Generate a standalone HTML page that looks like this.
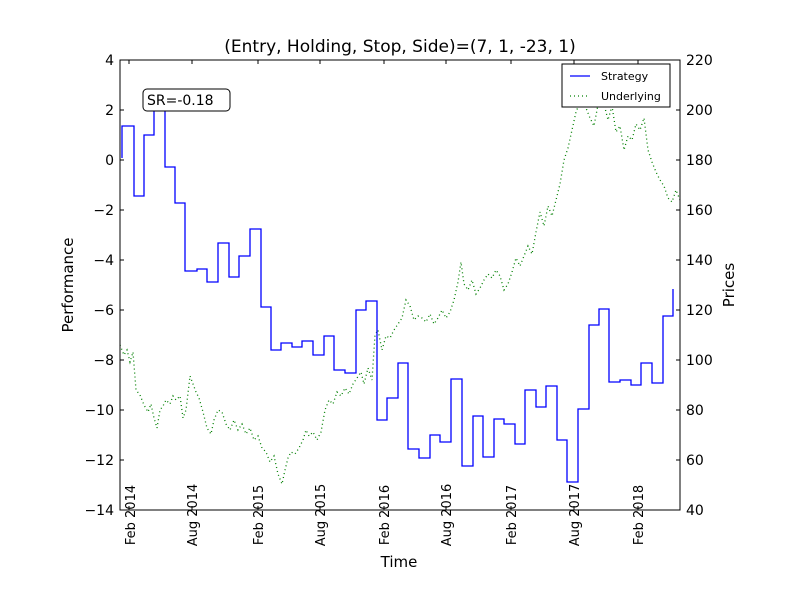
<!DOCTYPE html>
<html><head><style>body{margin:0;background:#fff}svg{display:block;font-family:"DejaVu Sans","Liberation Sans",sans-serif}</style></head>
<body>
<svg width="800" height="600" xmlns="http://www.w3.org/2000/svg">
<rect width="800" height="600" fill="#fff"/>
<polyline fill="none" stroke="#007f00" stroke-width="1.3" stroke-dasharray="1,3" points="120,345 124,355 127,350 130,362 133,352 136,390 140,395 144,405 148,412 151,404 154,418 157,428 160,410 163,406 166,400 170,404 173,396 176,400 180,396 183,418 186,410 190,376 193,384 196,392 199,398 203,412 207,428 211,434 214,420 218,410 222,412 226,424 230,430 234,420 238,430 242,424 246,434 250,428 254,440 258,436 262,448 266,452 270,462 274,456 278,474 282,484 285,470 288,458 291,452 295,454 299,448 303,440 306,430 309,436 313,432 317,440 321,432 325,410 329,400 333,404 337,392 341,396 345,388 349,394 353,384 357,378 361,372 364,384 368,368 372,380 375,335 378,330 382,350 386,336 390,338 394,330 398,324 402,318 406,300 410,306 414,320 418,316 422,318 426,322 430,314 434,324 438,318 442,310 446,318 450,312 454,300 458,282 461,262 464,284 468,290 472,280 476,294 480,288 484,280 488,274 492,278 496,270 500,276 504,290 508,284 512,272 516,258 520,266 524,256 528,246 532,254 536,232 540,212 544,226 548,206 552,216 556,200 560,184 564,160 568,148 572,130 576,112 580,102 583,92 586,108 590,118 594,126 597,110 600,94 604,104 608,120 612,106 616,132 620,126 624,150 628,136 632,140 636,124 640,130 644,118 648,150 652,162 656,172 660,180 664,186 668,198 672,202 676,190 680,200"/>
<polyline fill="none" stroke="#0000ff" stroke-width="1.3" points="122,158 122,126 134,126 134,196 144,196 144,135 154,135 154,108 165,108 165,167 175,167 175,203 185,203 185,271 197,271 197,269 207,269 207,282 218,282 218,243 229,243 229,277 239,277 239,256 250,256 250,229 261,229 261,307 271,307 271,350 281,350 281,343 292,343 292,347 302,347 302,341 313,341 313,355 324,355 324,336 334,336 334,370 345,370 345,373 356,373 356,310 366,310 366,301 377,301 377,420 387,420 387,398 398,398 398,363 408,363 408,449 419,449 419,458 430,458 430,435 440,435 440,442 451,442 451,379 462,379 462,466 473,466 473,416 483,416 483,457 494,457 494,419 504,419 504,424 515,424 515,444 525,444 525,390 536,390 536,407 546,407 546,386 557,386 557,440 567,440 567,482 578,482 578,409 589,409 589,325 599,325 599,309 609,309 609,382 620,382 620,380 631,380 631,385 641,385 641,363 652,363 652,383 663,383 663,316 673,316 673,289"/>
<rect x="120" y="60" width="560" height="450" fill="none" stroke="#000" stroke-width="1"/>
<g stroke="#000" stroke-width="1">
<path d="M120,60h4M120,110h4M120,160h4M120,210h4M120,260h4M120,310h4M120,360h4M120,410h4M120,460h4M120,510h4"/>
<path d="M680,60h-4M680,110h-4M680,160h-4M680,210h-4M680,260h-4M680,310h-4M680,360h-4M680,410h-4M680,460h-4M680,510h-4"/>
<path d="M129,510v-4M192,510v-4M258,510v-4M320,510v-4M384,510v-4M446,510v-4M511,510v-4M574,510v-4M638,510v-4"/>
<path d="M129,60v4M192,60v4M258,60v4M320,60v4M384,60v4M446,60v4M511,60v4M574,60v4M638,60v4"/>
</g>
<g font-size="14" text-anchor="end">
<text x="114" y="65">4</text><text x="114" y="115">2</text><text x="114" y="165">0</text><text x="114" y="215">−2</text><text x="114" y="265">−4</text><text x="114" y="315">−6</text><text x="114" y="365">−8</text><text x="114" y="415">−10</text><text x="114" y="465">−12</text><text x="114" y="515">−14</text>
</g>
<g font-size="14">
<text x="686" y="65">220</text><text x="686" y="115">200</text><text x="686" y="165">180</text><text x="686" y="215">160</text><text x="686" y="265">140</text><text x="686" y="315">120</text><text x="686" y="365">100</text><text x="686" y="415">80</text><text x="686" y="465">60</text><text x="686" y="515">40</text>
</g>
<g font-size="13" text-anchor="middle">
<text transform="translate(135,515) rotate(-90)">Feb 2014</text>
<text transform="translate(197,515) rotate(-90)">Aug 2014</text>
<text transform="translate(263,515) rotate(-90)">Feb 2015</text>
<text transform="translate(325,515) rotate(-90)">Aug 2015</text>
<text transform="translate(389,515) rotate(-90)">Feb 2016</text>
<text transform="translate(451,515) rotate(-90)">Aug 2016</text>
<text transform="translate(516,515) rotate(-90)">Feb 2017</text>
<text transform="translate(579,515) rotate(-90)">Aug 2017</text>
<text transform="translate(643,515) rotate(-90)">Feb 2018</text>
</g>
<text x="400" y="52" font-size="17" text-anchor="middle">(Entry, Holding, Stop, Side)=(7, 1, -23, 1)</text>
<text x="399" y="567" font-size="15" text-anchor="middle">Time</text>
<text transform="translate(73,285) rotate(-90)" font-size="15" text-anchor="middle">Performance</text>
<text transform="translate(734,285) rotate(-90)" font-size="15" text-anchor="middle">Prices</text>
<rect x="143" y="89" width="87" height="22" rx="4" fill="#fff" stroke="#000" stroke-width="1"/>
<text x="147" y="105" font-size="14">SR=-0.18</text>
<rect x="562" y="64" width="108" height="43" fill="#fff" stroke="#000" stroke-width="1"/>
<line x1="570" y1="76" x2="590" y2="76" stroke="#0000ff" stroke-width="1.3"/>
<line x1="570" y1="96" x2="590" y2="96" stroke="#007f00" stroke-width="1.3" stroke-dasharray="1,3"/>
<text x="601" y="80" font-size="11">Strategy</text>
<text x="601" y="100" font-size="11">Underlying</text>
</svg>
</body></html>
